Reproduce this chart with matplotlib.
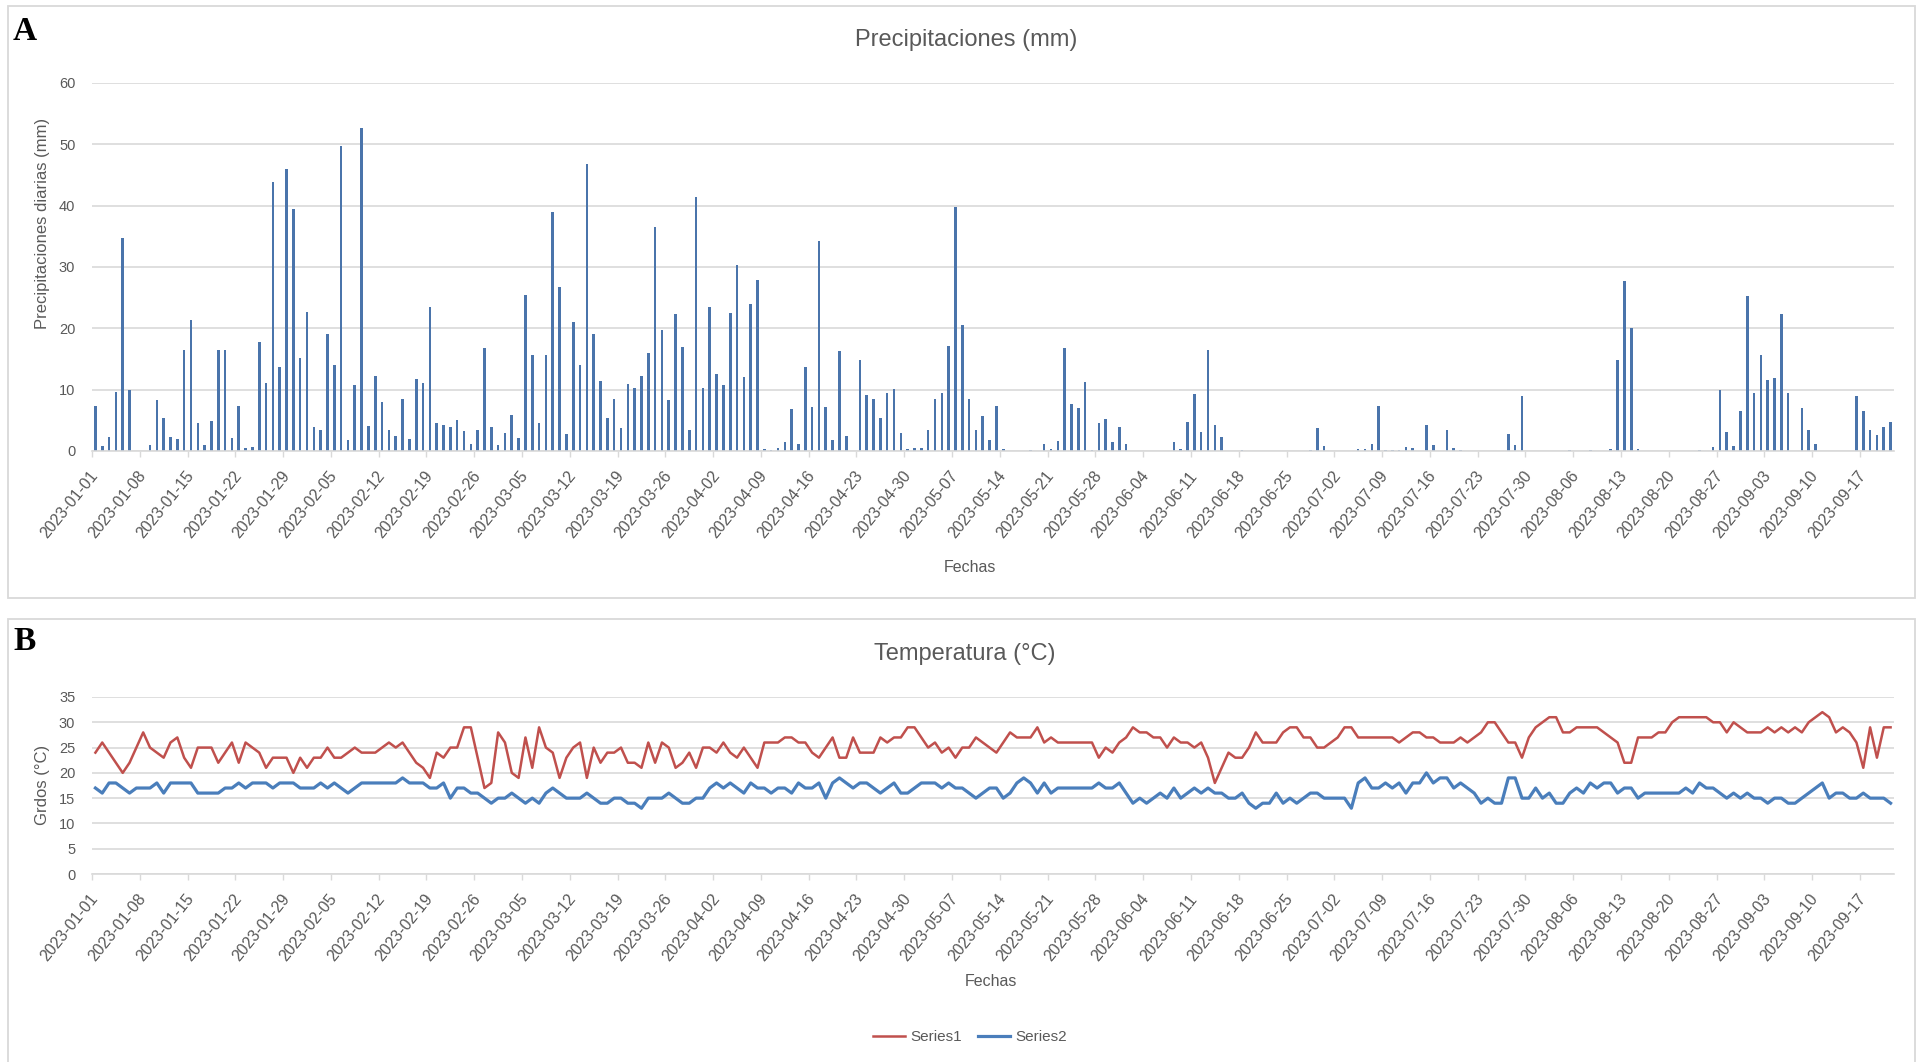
import numpy as np
import pandas as pd
import matplotlib
matplotlib.use("Agg")
import matplotlib.pyplot as plt
from matplotlib.patches import Rectangle
from matplotlib.lines import Line2D

# ----- datos -----
fechas = pd.date_range("2023-01-01", "2023-09-21", freq="D")

precipitacion = [
    7.3, 0.8, 2.3, 9.7, 34.7, 9.9, 0, 0, 0.9, 8.3,
    5.3, 2.3, 1.9, 16.5, 21.3, 4.5, 0.9, 4.9, 16.5, 16.5,
    2.1, 7.3, 0.5, 0.6, 17.8, 11.1, 43.9, 13.7, 45.9, 39.5,
    15.1, 22.7, 3.9, 3.4, 19.0, 14.1, 49.8, 1.8, 10.7, 52.6,
    4.1, 12.3, 8.0, 3.4, 2.4, 8.4, 2.0, 11.8, 11.1, 23.4,
    4.6, 4.3, 3.9, 5.1, 3.2, 1.2, 3.4, 16.8, 3.9, 0.9,
    2.9, 5.8, 2.2, 25.5, 15.6, 4.5, 15.6, 39.0, 26.7, 2.8,
    21.0, 14.1, 46.8, 19.1, 11.4, 5.4, 8.5, 3.8, 11.0, 10.3,
    12.2, 15.9, 36.6, 19.8, 8.3, 22.3, 17.0, 3.4, 41.4, 10.3,
    23.4, 12.5, 10.7, 22.5, 30.3, 12.0, 24.0, 27.8, 0.4, 0.2,
    0.5, 1.5, 6.9, 1.1, 13.7, 7.1, 34.3, 7.1, 1.8, 16.3,
    2.4, 0, 14.9, 9.2, 8.5, 5.4, 9.5, 10.1, 2.9, 0.4,
    0.5, 0.5, 3.5, 8.4, 9.5, 17.2, 39.8, 20.6, 8.5, 3.4,
    5.7, 1.8, 7.3, 0.4, 0, 0, 0, 0.1, 0, 1.1,
    0.4, 1.6, 16.8, 7.6, 7.0, 11.3, 0.2, 4.6, 5.2, 1.4,
    3.9, 1.2, 0, 0, 0, 0, 0, 0, 1.5, 0.4,
    4.7, 9.3, 3.1, 16.5, 4.3, 2.3, 0, 0, 0.1, 0,
    0, 0, 0, 0, 0, 0, 0, 0, 0.2, 3.8,
    0.8, 0, 0, 0, 0, 0.4, 0.4, 1.2, 7.3, 0.1,
    0.1, 0.1, 0.6, 0.5, 0, 4.3, 0.9, 0, 3.5, 0.5,
    0.1, 0, 0, 0, 0, 0, 0, 2.8, 0.9, 8.9,
    0, 0, 0, 0, 0, 0, 0.1, 0, 0, 0.1,
    0, 0, 0.4, 14.8, 27.7, 20.1, 0.4, 0, 0, 0,
    0, 0, 0, 0, 0, 0.1, 0, 0.7, 9.9, 3.1,
    0.8, 6.6, 25.2, 9.5, 15.6, 11.6, 11.9, 22.3, 9.5, 0,
    7.0, 3.5, 1.2, 0, 0, 0, 0, 0, 8.9, 6.5,
    3.4, 2.6, 3.9, 4.8,
]

series1 = [
    24, 26, 24, 22, 20, 22, 25, 28, 25, 24,
    23, 26, 27, 23, 21, 25, 25, 25, 22, 24,
    26, 22, 26, 25, 24, 21, 23, 23, 23, 20,
    23, 21, 23, 23, 25, 23, 23, 24, 25, 24,
    24, 24, 25, 26, 25, 26, 24, 22, 21, 19,
    24, 23, 25, 25, 29, 29, 23, 17, 18, 28,
    26, 20, 19, 27, 21, 29, 25, 24, 19, 23,
    25, 26, 19, 25, 22, 24, 24, 25, 22, 22,
    21, 26, 22, 26, 25, 21, 22, 24, 21, 25,
    25, 24, 26, 24, 23, 25, 23, 21, 26, 26,
    26, 27, 27, 26, 26, 24, 23, 25, 27, 23,
    23, 27, 24, 24, 24, 27, 26, 27, 27, 29,
    29, 27, 25, 26, 24, 25, 23, 25, 25, 27,
    26, 25, 24, 26, 28, 27, 27, 27, 29, 26,
    27, 26, 26, 26, 26, 26, 26, 23, 25, 24,
    26, 27, 29, 28, 28, 27, 27, 25, 27, 26,
    26, 25, 26, 23, 18, 21, 24, 23, 23, 25,
    28, 26, 26, 26, 28, 29, 29, 27, 27, 25,
    25, 26, 27, 29, 29, 27, 27, 27, 27, 27,
    27, 26, 27, 28, 28, 27, 27, 26, 26, 26,
    27, 26, 27, 28, 30, 30, 28, 26, 26, 23,
    27, 29, 30, 31, 31, 28, 28, 29, 29, 29,
    29, 28, 27, 26, 22, 22, 27, 27, 27, 28,
    28, 30, 31, 31, 31, 31, 31, 30, 30, 28,
    30, 29, 28, 28, 28, 29, 28, 29, 28, 29,
    28, 30, 31, 32, 31, 28, 29, 28, 26, 21,
    29, 23, 29, 29,
]

series2 = [
    17, 16, 18, 18, 17, 16, 17, 17, 17, 18,
    16, 18, 18, 18, 18, 16, 16, 16, 16, 17,
    17, 18, 17, 18, 18, 18, 17, 18, 18, 18,
    17, 17, 17, 18, 17, 18, 17, 16, 17, 18,
    18, 18, 18, 18, 18, 19, 18, 18, 18, 17,
    17, 18, 15, 17, 17, 16, 16, 15, 14, 15,
    15, 16, 15, 14, 15, 14, 16, 17, 16, 15,
    15, 15, 16, 15, 14, 14, 15, 15, 14, 14,
    13, 15, 15, 15, 16, 15, 14, 14, 15, 15,
    17, 18, 17, 18, 17, 16, 18, 17, 17, 16,
    17, 17, 16, 18, 17, 17, 18, 15, 18, 19,
    18, 17, 18, 18, 17, 16, 17, 18, 16, 16,
    17, 18, 18, 18, 17, 18, 17, 17, 16, 15,
    16, 17, 17, 15, 16, 18, 19, 18, 16, 18,
    16, 17, 17, 17, 17, 17, 17, 18, 17, 17,
    18, 16, 14, 15, 14, 15, 16, 15, 17, 15,
    16, 17, 16, 17, 16, 16, 15, 15, 16, 14,
    13, 14, 14, 16, 14, 15, 14, 15, 16, 16,
    15, 15, 15, 15, 13, 18, 19, 17, 17, 18,
    17, 18, 16, 18, 18, 20, 18, 19, 19, 17,
    18, 17, 16, 14, 15, 14, 14, 19, 19, 15,
    15, 17, 15, 16, 14, 14, 16, 17, 16, 18,
    17, 18, 18, 16, 17, 17, 15, 16, 16, 16,
    16, 16, 16, 17, 16, 18, 17, 17, 16, 15,
    16, 15, 16, 15, 15, 14, 15, 15, 14, 14,
    15, 16, 17, 18, 15, 16, 16, 15, 15, 16,
    15, 15, 15, 14,
]

# ----- estilo -----
plt.rcParams['font.family'] = ['Liberation Sans', 'DejaVu Sans']
TXT = '#595959'
GRID = '#d9d9d9'
W, H = 1923, 1062

x = np.arange(len(fechas))
idx_lab = np.arange(0, len(fechas), 7)
etiquetas = [fechas[i].strftime('%Y-%m-%d') for i in idx_lab]

fig = plt.figure(figsize=(W / 100, H / 100), dpi=100)

# marcos de cada grafico
fig.add_artist(Rectangle((8 / W, 1 - 598 / H), 1907 / W, 592 / H,
                         transform=fig.transFigure, fill=False, ec=GRID, lw=1.3))
fig.add_artist(Rectangle((8 / W, 1 - 1075 / H), 1907 / W, 456 / H,
                         transform=fig.transFigure, fill=False, ec=GRID, lw=1.3))

axA = fig.add_axes([92 / W, 1 - 451 / H, 1802 / W, 368 / H])
axB = fig.add_axes([92 / W, 1 - 874 / H, 1802 / W, 177 / H])


def estilo(ax, ymax, paso):
    ax.set_xlim(-0.5, len(fechas) - 0.5)
    ax.set_ylim(0, ymax)
    ax.set_yticks(np.arange(0, ymax + 1, paso))
    ax.grid(axis='y', color=GRID, lw=1.2)
    ax.set_axisbelow(True)
    for s in ['top', 'right', 'left']:
        ax.spines[s].set_visible(False)
    ax.spines['bottom'].set_color(GRID)
    ax.spines['bottom'].set_linewidth(1.2)
    ax.tick_params(axis='y', length=0, labelsize=10.5, labelcolor=TXT, pad=12)
    ax.set_xticks(idx_lab)
    ax.set_xticklabels(etiquetas, rotation=51, ha='right', va='center',
                       rotation_mode='anchor', fontsize=11.5, color=TXT)
    ax.tick_params(axis='x', which='major', length=0, pad=16)
    ax.set_xticks(idx_lab - 0.5, minor=True)
    ax.tick_params(axis='x', which='minor', length=4, color=GRID, width=1)


# ----- A: precipitaciones -----
estilo(axA, 60, 10)
axA.bar(x, precipitacion, width=0.38, color='#4a74ab')

# ----- B: temperatura -----
estilo(axB, 35, 5)
axB.plot(x, series1, color='#c0504d', lw=1.8, solid_joinstyle='round')
axB.plot(x, series2, color='#4a7ebb', lw=2.3, solid_joinstyle='round')

# textos
fig.text(966 / W, 1 - 40 / H, 'Precipitaciones (mm)', ha='center', va='center',
         fontsize=17, color=TXT)
fig.text(965 / W, 1 - 654 / H, 'Temperatura (°C)', ha='center', va='center',
         fontsize=17, color=TXT)
fig.text(43 / W, 1 - 223 / H, 'Precipitaciones diarias (mm)', rotation=90,
         ha='center', va='center', fontsize=12, color=TXT)
fig.text(43 / W, 1 - 785 / H, 'Grdos (°C)', rotation=90,
         ha='center', va='center', fontsize=12, color=TXT)
fig.text(970 / W, 1 - 568 / H, 'Fechas', ha='center', va='center',
         fontsize=11.5, color=TXT)
fig.text(991 / W, 1 - 982 / H, 'Fechas', ha='center', va='center',
         fontsize=11.5, color=TXT)

fig.text(25 / W, 1 - 31 / H, 'A', ha='center', va='center', fontsize=24,
         fontweight='bold', family='Liberation Serif')
fig.text(25 / W, 1 - 641 / H, 'B', ha='center', va='center', fontsize=24,
         fontweight='bold', family='Liberation Serif')

handles = [Line2D([0], [0], color='#c0504d', lw=1.8),
           Line2D([0], [0], color='#4a7ebb', lw=2.3)]
fig.legend(handles, ['Series1', 'Series2'], loc='center', ncol=2,
           bbox_to_anchor=(970 / W, 1 - 1037 / H), frameon=False,
           fontsize=11, labelcolor=TXT, handlelength=2.1, handletextpad=0.4,
           columnspacing=1.0)

fig.savefig('out.png', dpi=100)
